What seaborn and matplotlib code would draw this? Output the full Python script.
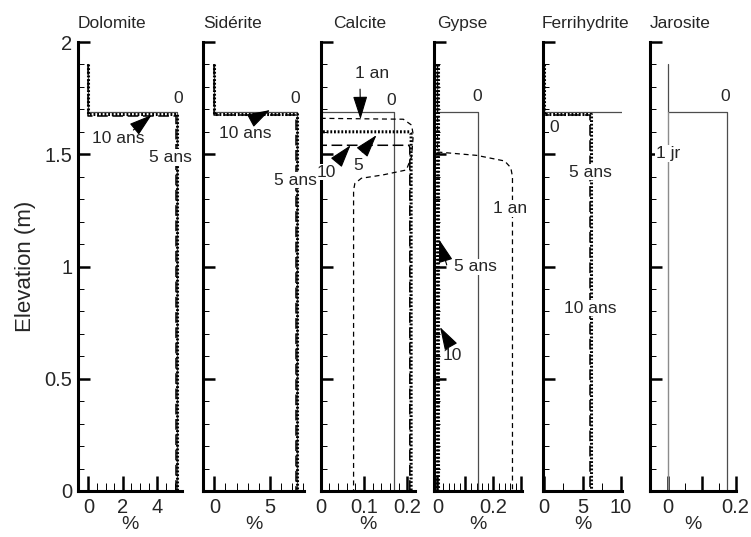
import matplotlib
matplotlib.use("Agg")
import matplotlib.pyplot as plt
from matplotlib.ticker import FixedLocator, FixedFormatter
import seaborn as sns

sns.set_theme(style="white")
plt.rcParams["font.family"] = ["Liberation Sans", "DejaVu Sans"]

# ---------------- data: mineral profiles (% vs elevation in m) ----------------
minerals = ["Dolomite", "Sidérite", "Calcite", "Gypse", "Ferrihydrite", "Jarosite"]

# Dolomite
dolomite_t0_x = [0, 0, 5.15, 5.15]
dolomite_t0_y = [1.9, 1.69, 1.69, 0.0]
dolomite_t5_x = [0, 0, 5.12, 5.12]
dolomite_t5_y = [1.9, 1.68, 1.68, 0.0]
dolomite_t10_x = [0, 0, 5.10, 5.10]
dolomite_t10_y = [1.9, 1.67, 1.67, 0.0]

# Sidérite
siderite_t0_x = [0, 0, 7.45, 7.45]
siderite_t0_y = [1.9, 1.69, 1.69, 0.0]
siderite_t5_x = [0, 0, 7.42, 7.42]
siderite_t5_y = [1.9, 1.68, 1.68, 0.0]
siderite_t10_x = [0, 0, 7.40, 7.40]
siderite_t10_y = [1.9, 1.675, 1.675, 0.0]

# Calcite
calcite_t0_x = [0, 0, 0.169, 0.169]
calcite_t0_y = [1.9, 1.69, 1.69, 0.0]
calcite_t1_x = [0, 0.191, 0.210, 0.214, 0.210, 0.198, 0.144, 0.094, 0.079, 0.076, 0.076]
calcite_t1_y = [1.66, 1.656, 1.63, 1.586, 1.489, 1.43, 1.408, 1.393, 1.37, 1.34, 0.0]
calcite_t5_x = [0, 0, 0.205, 0.209, 0.209]
calcite_t5_y = [1.9, 1.60, 1.60, 1.59, 0.0]
calcite_t10_x = [0, 0, 0.204, 0.206, 0.206]
calcite_t10_y = [1.9, 1.54, 1.54, 1.53, 0.0]

# Gypse
gypse_t0_x = [0, 0, 0.1436, 0.1436]
gypse_t0_y = [1.9, 1.69, 1.69, 0.0]
gypse_t1_x = [0, 0, 0.14, 0.24, 0.262, 0.268, 0.268]
gypse_t1_y = [1.9, 1.51, 1.495, 1.47, 1.44, 1.40, 0.0]
gypse_t5_x = [0, 0]
gypse_t5_y = [1.9, 0.0]
gypse_t10_x = [0.002, 0.002]
gypse_t10_y = [1.9, 0.0]

# Ferrihydrite
ferri_t0_x = [0, 0, 10.1]
ferri_t0_y = [1.9, 1.69, 1.69]
ferri_t5_x = [0, 0, 6.05, 6.05]
ferri_t5_y = [1.9, 1.68, 1.68, 0.0]
ferri_t10_x = [0, 0, 6.0, 6.0]
ferri_t10_y = [1.9, 1.675, 1.675, 0.0]

# Jarosite
jaro_t0_x = [0, 0, 0.175, 0.175]
jaro_t0_y = [1.9, 1.69, 1.69, 0.0]
jaro_t1_x = [0, 0]
jaro_t1_y = [1.69, 0.0]

# axis ranges and ticks
x_limits = [(-0.6, 5.41), (-1.0, 8.08), (0.0, 0.218), (-0.0125, 0.301), (-0.13, 10.1), (-0.052, 0.2)]
x_major = [[0, 2, 4], [0, 5], [0, 0.1, 0.2], [0, 0.1, 0.2, 0.3], [0, 5, 10], [0, 0.1, 0.2]]
x_major_labels = [["0", "2", "4"], ["0", "5"], ["0", "0.1", "0.2"], ["0", "", "0.2", ""],
                  ["0", "5", "10"], ["0", "", "0.2"]]
x_minor = [[0.5, 1, 1.5, 2.5, 3, 3.5, 4.5, 5],
           [1, 2, 3, 4, 6, 7, 8],
           [0.02, 0.04, 0.06, 0.08, 0.12, 0.14, 0.16, 0.18],
           [0.02, 0.04, 0.06, 0.08, 0.12, 0.14, 0.16, 0.18, 0.22, 0.24, 0.26, 0.28],
           [2.5, 7.5],
           [0.05, 0.15]]
y_major = [0, 0.5, 1, 1.5, 2]
y_major_labels = ["0", "0.5", "1", "1.5", "2"]
y_minor = [0.1, 0.2, 0.3, 0.4, 0.6, 0.7, 0.8, 0.9, 1.1, 1.2, 1.3, 1.4, 1.6, 1.7, 1.8, 1.9]

# panel extents in pixels (left, right) and title offsets (axes fraction)
panel_px = [(78, 181.7), (203.3, 304), (320.7, 415), (434, 521.7), (543.3, 621.7), (650, 735.5)]
title_x = [0.0, 0.0, 0.13, 0.03, -0.02, 0.0]

# ---------------- styles ----------------
style_t0 = dict(color="0.3", linewidth=0.9, linestyle="-")
style_t1 = dict(color="black", linewidth=0.9, linestyle=(0, (4, 3)))
style_t5 = dict(color="black", linewidth=2.2, linestyle=(0, (0.6, 0.6)))
style_t10 = dict(color="black", linewidth=1.1, linestyle=(0, (7, 3)))

curves = [
    [(dolomite_t0_x, dolomite_t0_y, style_t0), (dolomite_t10_x, dolomite_t10_y, style_t10),
     (dolomite_t5_x, dolomite_t5_y, style_t5)],
    [(siderite_t0_x, siderite_t0_y, style_t0), (siderite_t10_x, siderite_t10_y, style_t10),
     (siderite_t5_x, siderite_t5_y, style_t5)],
    [(calcite_t0_x, calcite_t0_y, style_t0), (calcite_t1_x, calcite_t1_y, style_t1),
     (calcite_t10_x, calcite_t10_y, style_t10), (calcite_t5_x, calcite_t5_y, style_t5)],
    [(gypse_t0_x, gypse_t0_y, style_t0), (gypse_t1_x, gypse_t1_y, style_t1),
     (gypse_t10_x, gypse_t10_y, style_t5), (gypse_t5_x, gypse_t5_y, style_t5)],
    [(ferri_t0_x, ferri_t0_y, style_t0), (ferri_t10_x, ferri_t10_y, style_t10),
     (ferri_t5_x, ferri_t5_y, style_t5)],
    [(jaro_t0_x, jaro_t0_y, style_t0), (jaro_t1_x, jaro_t1_y, dict(color="0.55", linewidth=1.0, linestyle="-"))],
]

# curve labels: (text, x, y)
labels = [
    [("0", 5.22, 1.75), ("10 ans", 1.74, 1.57), ("5 ans", 4.74, 1.486)],
    [("0", 7.27, 1.75), ("10 ans", 2.77, 1.593), ("5 ans", 7.27, 1.385)],
    [("1 an", 0.119, 1.86), ("0", 0.163, 1.74), ("10", 0.012, 1.42), ("5", 0.086, 1.45)],
    [("0", 0.142, 1.756), ("1 an", 0.259, 1.259), ("5 ans", 0.134, 0.999), ("10", 0.052, 0.605)],
    [("0", 1.3, 1.62), ("5 ans", 6.05, 1.42), ("10 ans", 6.05, 0.815)],
    [("0", 0.171, 1.756), ("1 jr", 0.0, 1.504)],
]
# arrows: (tail x, tail y, head x, head y)
arrows = [
    [(2.61, 1.608, 3.67, 1.675)],
    [(3.37, 1.653, 5.02, 1.697)],
    [(0.091, 1.79, 0.092, 1.656), (0.039, 1.47, 0.069, 1.54), (0.096, 1.51, 0.129, 1.585)],
    [(0.033, 1.007, 0.006, 1.12), (0.045, 0.65, 0.009, 0.73)],
    [],
    [],
]

W, H = 751, 537
fig = plt.figure(figsize=(W / 100, H / 100), dpi=100)
y0_px, y2_px = 491, 42
bottom = (H - y0_px) / H
height = (y0_px - y2_px) / H

for i, name in enumerate(minerals):
    L, R = panel_px[i]
    ax = fig.add_axes([L / W, bottom, (R - L) / W, height])
    for xs, ys, st in curves[i]:
        sns.lineplot(x=xs, y=ys, sort=False, estimator=None, ax=ax, **st)
    ax.set_xlim(*x_limits[i])
    ax.set_ylim(0, 2)

    for side in ("top", "right"):
        ax.spines[side].set_visible(False)
    for side in ("left", "bottom"):
        ax.spines[side].set_linewidth(2.2)
        ax.spines[side].set_color("black")

    ax.xaxis.set_major_locator(FixedLocator(x_major[i]))
    ax.xaxis.set_major_formatter(FixedFormatter(x_major_labels[i]))
    ax.xaxis.set_minor_locator(FixedLocator(x_minor[i]))
    ax.yaxis.set_major_locator(FixedLocator(y_major))
    ax.yaxis.set_minor_locator(FixedLocator(y_minor))
    if i == 0:
        ax.yaxis.set_major_formatter(FixedFormatter(y_major_labels))
        ax.set_ylabel("Elevation (m)", fontsize=16, labelpad=6)
    else:
        ax.yaxis.set_major_formatter(FixedFormatter([""] * len(y_major)))
        ax.set_ylabel("")

    ax.tick_params(axis="y", which="major", direction="in", length=8.5, width=1.8,
                   labelsize=14.5, pad=4, color="black", left=True)
    ax.tick_params(axis="y", which="minor", direction="in", length=4.3, width=0.7,
                   color="black", left=True)
    ax.tick_params(axis="x", which="major", direction="in", length=10.5, width=1.8,
                   labelsize=14.5, pad=5, color="black", bottom=True)
    ax.tick_params(axis="x", which="minor", direction="in", length=5.5, width=0.7,
                   color="black", bottom=True)

    ax.set_xlabel("%", fontsize=14, labelpad=-1)
    ax.set_title(name, x=title_x[i], ha="left", fontsize=12.5, pad=10)
    ax.set_facecolor("none")

    for txt, tx, ty in labels[i]:
        ax.text(tx, ty, txt, fontsize=12.5, ha="center", va="center", zorder=6, clip_on=False,
                bbox=dict(facecolor="white", edgecolor="none", pad=0.5))
    for ax_, ay_, hx, hy in arrows[i]:
        ax.annotate("", xy=(hx, hy), xytext=(ax_, ay_), zorder=7,
                    arrowprops=dict(arrowstyle="-|>,head_length=0.8,head_width=0.25",
                                    color="black", lw=0.8, shrinkA=0, shrinkB=0,
                                    mutation_scale=18))

fig.savefig("out.png", dpi=100, facecolor="white")
